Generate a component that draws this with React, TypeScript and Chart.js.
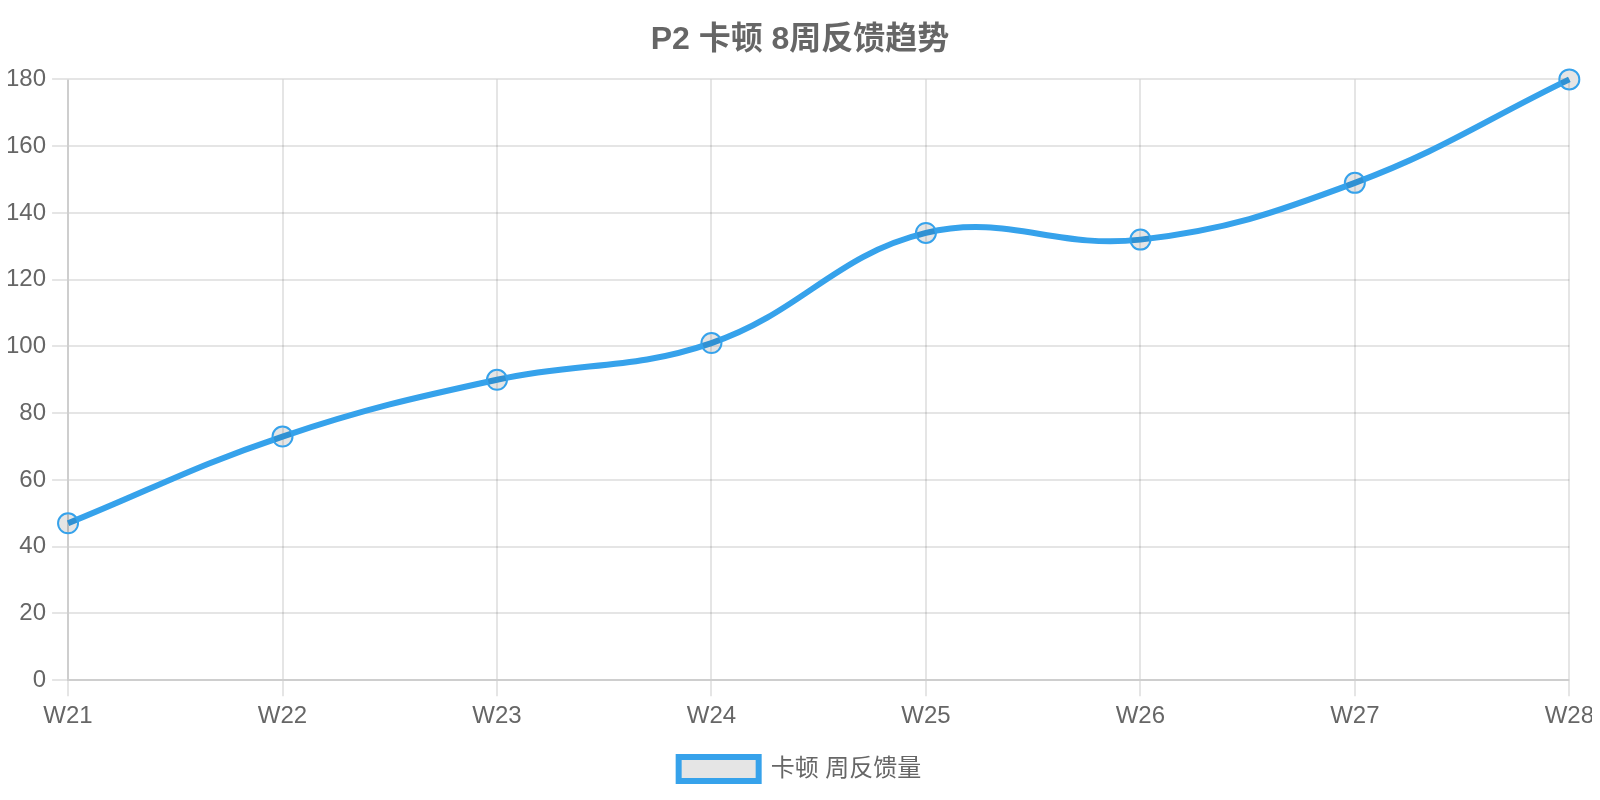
import { useEffect, useRef } from "react";
import { Chart, registerables } from "chart.js";

Chart.register(...registerables);

const weeks = ["W21", "W22", "W23", "W24", "W25", "W26", "W27", "W28"];
const feedbackCounts = [47, 73, 90, 101, 134, 132, 149, 180];
const seriesLabel = "卡顿 周反馈量";
const chartTitle = "P2 卡顿 8周反馈趋势";

const BLUE = "#36a2eb";
const FONT = "'Helvetica Neue', Helvetica, Arial, 'Liberation Sans', 'Noto Sans CJK SC', sans-serif";

export default function App() {
  const canvasRef = useRef<HTMLCanvasElement>(null);
  const chartRef = useRef<Chart | null>(null);

  useEffect(() => {
    if (!canvasRef.current) return;
    if (chartRef.current) {
      chartRef.current.destroy();
    }
    const ctx = canvasRef.current.getContext("2d");
    if (!ctx) return;

    chartRef.current = new Chart(ctx, {
      type: "line",
      data: {
        labels: weeks,
        datasets: [
          {
            label: seriesLabel,
            data: feedbackCounts,
            borderColor: BLUE,
            backgroundColor: "rgba(0, 0, 0, 0.1)",
            borderWidth: 6,
            tension: 0.4,
            pointRadius: 10,
            pointBorderWidth: 2,
            pointBorderColor: BLUE,
            pointBackgroundColor: "rgba(0, 0, 0, 0.1)",
          },
        ],
      },
      options: {
        responsive: true,
        maintainAspectRatio: false,
        animation: false,
        layout: { padding: { bottom: 9 } },
        scales: {
          x: {
            grid: { lineWidth: 2, tickLength: 16, color: "rgba(0, 0, 0, 0.1)" },
            border: { width: 2 },
            ticks: { padding: 6, color: "#666", font: { family: FONT, size: 24 } },
          },
          y: {
            beginAtZero: true,
            grid: { lineWidth: 2, tickLength: 16, color: "rgba(0, 0, 0, 0.1)" },
            border: { width: 2 },
            ticks: { padding: 6, stepSize: 20, color: "#666", font: { family: FONT, size: 24 } },
          },
        },
        plugins: {
          title: {
            display: true,
            text: chartTitle,
            color: "#666",
            padding: { top: 21, bottom: 20 },
            font: { family: FONT, size: 32, weight: "bold" },
          },
          legend: {
            position: "bottom",
            labels: {
              boxWidth: 80,
              padding: 20,
              color: "#666",
              font: { family: FONT, size: 24 },
            },
          },
          tooltip: { enabled: false },
        },
      },
    });

    return () => {
      if (chartRef.current) {
        chartRef.current.destroy();
        chartRef.current = null;
      }
    };
  }, []);

  // cancel the body margin so the canvas covers the whole 1600x800 window
  return (
    <div style={{ margin: "-8px", height: "800px", position: "relative" }}>
      <canvas ref={canvasRef}></canvas>
    </div>
  );
}
